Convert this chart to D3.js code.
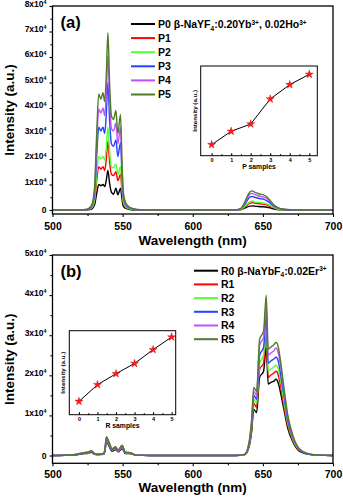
<!DOCTYPE html>
<html lang="en">
<head>
<meta charset="UTF-8">
<title>Upconversion emission spectra</title>
<script src="https://d3js.org/d3.v7.min.js"></script>
<style>
  body { margin: 0; background: #fff; }
  svg { display: block; font-family: "Liberation Sans", Arial, sans-serif; font-weight: bold; }
  .tick line { stroke: #000; stroke-width: 1.1; }
  .domain { display: none; }
</style>
</head>
<body>
<svg id="chart" width="343" height="498"></svg>
<script>
// ---- panel (a): wavelength (nm) and intensity in units of 1e4 ----
const wlA = [500, 520, 525, 528, 530, 531.5, 533, 534.5, 536, 537.2, 538.3, 539.5, 540.7, 542, 543.5,
  545.2, 546.6, 548.5, 549.5, 550.5, 552, 555, 560, 570, 630, 634, 637, 639, 641, 642.5,
  644, 646, 648, 650, 652, 654, 656, 658, 660, 663, 667, 672, 700];
const P0 = [0, 0, 0.01, 0.04, 0.2, 0.65, 1.0, 0.95, 1.0, 0.92, 1.15, 1.55, 1.05, 0.7, 0.62,
  0.85, 0.6, 0.85, 0.45, 0.15, 0.07, 0.02, 0, 0, 0, 0.01, 0.07, 0.12, 0.15, 0.16,
  0.15, 0.14, 0.13, 0.13, 0.12, 0.1, 0.07, 0.04, 0.02, 0.01, 0, 0, 0];
const P1 = [0, 0, 0.01, 0.08, 0.34, 1.15, 1.7, 1.6, 1.7, 1.55, 1.95, 2.7, 1.9, 1.4, 1.35,
  1.5, 1.15, 1.4, 0.75, 0.27, 0.11, 0.04, 0.01, 0, 0, 0.02, 0.11, 0.21, 0.27, 0.29,
  0.27, 0.25, 0.24, 0.23, 0.21, 0.17, 0.12, 0.08, 0.04, 0.02, 0.01, 0, 0];
const P2 = [0, 0, 0.01, 0.09, 0.41, 1.4, 2.1, 2.0, 2.1, 1.95, 2.4, 3.25, 2.3, 1.7, 1.65,
  1.8, 1.4, 1.7, 0.9, 0.32, 0.14, 0.05, 0.01, 0, 0, 0.02, 0.14, 0.25, 0.33, 0.35,
  0.32, 0.3, 0.29, 0.28, 0.25, 0.21, 0.15, 0.09, 0.05, 0.02, 0.01, 0, 0];
const P3 = [0, 0, 0.02, 0.14, 0.64, 2.1, 3.25, 3.1, 3.25, 3.0, 3.7, 5.0, 3.55, 2.6, 2.5,
  2.75, 2.1, 2.65, 1.4, 0.5, 0.21, 0.07, 0.01, 0, 0, 0.04, 0.21, 0.39, 0.51, 0.53,
  0.5, 0.47, 0.44, 0.43, 0.39, 0.32, 0.23, 0.14, 0.08, 0.04, 0.01, 0, 0];
const P4 = [0, 0, 0.03, 0.17, 0.78, 2.6, 3.95, 3.8, 4.0, 3.7, 4.5, 6.05, 4.35, 3.2, 3.1,
  3.4, 2.6, 3.25, 1.75, 0.6, 0.26, 0.09, 0.02, 0, 0, 0.04, 0.26, 0.48, 0.63, 0.65,
  0.61, 0.57, 0.54, 0.52, 0.48, 0.39, 0.28, 0.17, 0.1, 0.04, 0.02, 0, 0];
const P5 = [0, 0, 0.03, 0.2, 0.9, 3.0, 4.55, 4.35, 4.6, 4.25, 5.2, 6.95, 5.0, 3.7, 3.55,
  3.9, 3.0, 3.75, 2.0, 0.7, 0.3, 0.1, 0.02, 0, 0, 0.05, 0.3, 0.55, 0.72, 0.75,
  0.7, 0.66, 0.62, 0.6, 0.55, 0.45, 0.32, 0.2, 0.11, 0.05, 0.02, 0, 0];
const namesA = ["P0", "P1", "P2", "P3", "P4", "P5"];
const insetA = [0.123, 0.272, 0.353, 0.632, 0.792, 0.907];

// ---- panel (b) ----
const wlB = [500, 515, 519.5, 522, 525, 527.7, 530, 532, 536.5, 537.5, 538.4, 540.2, 542.5, 544.9, 546.8,
  549.6, 552, 555.5, 559.5, 570, 630, 637, 640, 642, 643.5, 645.5, 647.7, 650.5, 652.4, 653.8,
  655.5, 657.5, 659.5, 661, 663, 665, 667.8, 671.4, 676, 683, 690, 700];
const R0 = [0, 0.01, 0.03, 0.05, 0.05, 0.08, 0.03, 0.02, 0.03, 0.13, 0.36, 0.24, 0.11, 0.15, 0.09,
  0.17, 0.05, 0.05, 0.01, 0, 0, 0.02, 0.2, 0.6, 1.15, 1.07, 1.95, 2.1, 2.7, 1.78,
  1.82, 1.85, 1.9, 1.8, 1.5, 1.15, 0.67, 0.34, 0.11, 0.03, 0.01, 0];
const R1 = [0, 0.01, 0.04, 0.05, 0.06, 0.09, 0.04, 0.02, 0.04, 0.15, 0.38, 0.26, 0.13, 0.16, 0.1,
  0.19, 0.06, 0.05, 0.01, 0, 0, 0.02, 0.22, 0.67, 1.3, 1.2, 2.15, 2.3, 3.05, 1.95,
  2.0, 2.05, 2.1, 2.0, 1.67, 1.25, 0.74, 0.37, 0.13, 0.03, 0.01, 0];
const R2 = [0, 0.02, 0.04, 0.06, 0.06, 0.1, 0.04, 0.02, 0.04, 0.16, 0.4, 0.28, 0.14, 0.18, 0.11,
  0.21, 0.06, 0.06, 0.01, 0, 0, 0.02, 0.24, 0.72, 1.4, 1.3, 2.3, 2.5, 3.25, 2.1,
  2.15, 2.2, 2.25, 2.15, 1.8, 1.35, 0.8, 0.4, 0.14, 0.03, 0.01, 0];
const R3 = [0, 0.02, 0.04, 0.06, 0.07, 0.1, 0.04, 0.03, 0.04, 0.17, 0.42, 0.3, 0.15, 0.19, 0.12,
  0.23, 0.07, 0.06, 0.01, 0, 0, 0.03, 0.26, 0.78, 1.5, 1.4, 2.5, 2.7, 3.5, 2.3,
  2.35, 2.4, 2.45, 2.35, 1.95, 1.5, 0.87, 0.44, 0.15, 0.03, 0.01, 0];
const R4 = [0, 0.02, 0.05, 0.07, 0.08, 0.11, 0.05, 0.03, 0.05, 0.19, 0.45, 0.33, 0.16, 0.21, 0.13,
  0.25, 0.08, 0.07, 0.01, 0, 0, 0.03, 0.28, 0.85, 1.6, 1.5, 2.75, 2.95, 3.75, 2.5,
  2.55, 2.6, 2.68, 2.55, 2.15, 1.6, 0.95, 0.47, 0.16, 0.04, 0.01, 0];
const R5 = [0, 0.02, 0.05, 0.07, 0.08, 0.12, 0.05, 0.03, 0.05, 0.2, 0.47, 0.35, 0.17, 0.22, 0.14,
  0.26, 0.08, 0.07, 0.01, 0, 0, 0.03, 0.3, 0.9, 1.7, 1.6, 2.9, 3.1, 4.0, 2.65,
  2.7, 2.75, 2.82, 2.7, 2.25, 1.7, 1.0, 0.5, 0.17, 0.04, 0.01, 0];
const namesB = ["R0", "R1", "R2", "R3", "R4", "R5"];
const insetB = [0.158, 0.357, 0.488, 0.61, 0.774, 0.925];

const samples = [0, 1, 2, 3, 4, 5];
const colors = ["#000000", "#ff0000", "#55ff33", "#2244ff", "#c050ff", "#4f7d23"];

const svg = d3.select('#chart');

// text with sub/superscript pieces
function rich(text, parts, size) {
  let shift = 0;
  parts.forEach(p => {
    const [t, kind] = Array.isArray(p) ? p : [p, 'n'];
    const target = kind === 'sup' ? -0.3 * size : kind === 'sub' ? 0.28 * size : 0;
    text.append('tspan')
      .attr('dy', target - shift)
      .attr('font-size', kind === 'n' ? size : size * 0.62)
      .text(t);
    shift = target;
  });
}

function panel(cfg) {
  const g = svg.append('g');
  const x = d3.scaleLinear().domain([500, 700]).range([cfg.left, cfg.right]);
  const y = d3.scaleLinear().domain(cfg.yDomain).range([cfg.bottom, cfg.top]);

  // minor ticks
  g.append('g').attr('transform', `translate(0,${cfg.bottom})`)
    .call(d3.axisBottom(x).tickValues([525, 575, 625, 675]).tickSize(2).tickFormat(''));
  g.append('g').attr('transform', `translate(${cfg.left},0)`)
    .call(d3.axisLeft(y).tickValues(cfg.yMinor).tickSize(2).tickFormat(''));

  // major ticks
  g.append('g').attr('transform', `translate(0,${cfg.bottom})`)
    .call(d3.axisBottom(x).tickValues([500, 550, 600, 650, 700]).tickSize(3).tickPadding(cfg.xPad))
    .selectAll('text').attr('font-size', 10.5).attr('fill', '#000');
  const yAx = g.append('g').attr('transform', `translate(${cfg.left},0)`)
    .call(d3.axisLeft(y).tickValues(cfg.yTicks).tickSize(3).tickPadding(3));
  yAx.selectAll('text').attr('font-size', 8.5).attr('fill', '#000').each(function(d) {
    const t = d3.select(this).text('');
    if (d === 0) t.text('0');
    else rich(t, [d + 'x10', ['4', 'sup']], 8.5);
  });

  // spectra
  const line = d3.line().x((d, i) => x(cfg.wl[i])).y(d => y(d)).curve(d3.curveMonotoneX);
  cfg.series.forEach((s, i) => {
    g.append('path').datum(s).attr('d', line)
      .attr('fill', 'none').attr('stroke', colors[i]).attr('stroke-width', 1.4)
      .attr('stroke-linejoin', 'round');
  });

  // frame
  g.append('rect').attr('x', cfg.left).attr('y', cfg.top)
    .attr('width', cfg.right - cfg.left).attr('height', cfg.bottom - cfg.top)
    .attr('fill', 'none').attr('stroke', '#000').attr('stroke-width', 1.3);

  // titles
  g.append('text').attr('x', (cfg.left + cfg.right) / 2).attr('y', cfg.xTitleY)
    .attr('text-anchor', 'middle').attr('font-size', 13.5).text('Wavelength (nm)');
  g.append('text').attr('transform', `translate(14,${(cfg.top + cfg.bottom) / 2}) rotate(-90)`)
    .attr('text-anchor', 'middle').attr('font-size', 13.5).text('Intensity (a.u.)');
  g.append('text').attr('x', cfg.left + 8).attr('y', cfg.top + 22)
    .attr('font-size', 16.5).text(cfg.tag);

  // legend
  cfg.names.forEach((n, i) => {
    const ly = cfg.legY + i * cfg.legDy;
    g.append('line').attr('x1', cfg.legX).attr('x2', cfg.legX + 24)
      .attr('y1', ly).attr('y2', ly).attr('stroke', colors[i]).attr('stroke-width', 2);
    const t = g.append('text').attr('x', cfg.legX + 27).attr('y', ly + 3.8).attr('font-size', 10.5);
    if (i === 0) rich(t, cfg.firstLabel, 10.5);
    else t.text(n);
  });

  // inset
  const ins = cfg.inset;
  const ix = d3.scaleLinear().domain(ins.xDomain).range([ins.left, ins.right]);
  const iy = d3.scaleLinear().domain([0, 1]).range([ins.bottom, ins.top]);
  const ig = g.append('g');
  ig.append('rect').attr('x', ins.left).attr('y', ins.top)
    .attr('width', ins.right - ins.left).attr('height', ins.bottom - ins.top)
    .attr('fill', '#fff').attr('stroke', '#000').attr('stroke-width', 1);
  ig.append('g').attr('transform', `translate(0,${ins.bottom})`)
    .call(d3.axisBottom(ix).tickValues([0.5, 1.5, 2.5, 3.5, 4.5]).tickSize(-1.5).tickFormat(''))
    .selectAll('line').attr('stroke-width', 0.7);
  ig.append('g').attr('transform', `translate(0,${ins.bottom})`)
    .call(d3.axisBottom(ix).tickValues(samples).tickFormat(d3.format('d')).tickSize(-2.5).tickPadding(2))
    .call(a => a.selectAll('line').attr('stroke-width', 0.7))
    .selectAll('text').attr('font-size', 5.5).attr('fill', '#000');
  ig.append('path').datum(ins.values)
    .attr('d', d3.line().x((d, i) => ix(samples[i])).y(d => iy(d)))
    .attr('fill', 'none').attr('stroke', '#000').attr('stroke-width', 1);
  ig.selectAll('.star').data(ins.values).join('path')
    .attr('transform', (d, i) => `translate(${ix(samples[i])},${iy(d)})`)
    .attr('d', d3.symbol(d3.symbolStar).size(20))
    .attr('fill', '#ff1a1a').attr('stroke', '#cc0000').attr('stroke-width', 0.4);
  ig.append('text').attr('x', (ins.left + ins.right) / 2).attr('y', ins.bottom + 13)
    .attr('text-anchor', 'middle').attr('font-size', 6.8).text(ins.xTitle);
  ig.append('text')
    .attr('transform', `translate(${ins.left - 4},${(ins.top + ins.bottom) / 2}) rotate(-90)`)
    .attr('text-anchor', 'middle').attr('font-size', 6.2).text('Intensity (a.u.)');
}

panel({
  left: 52.5, right: 333, top: 6, bottom: 214,
  yDomain: [-0.157, 8], yTicks: [0, 1, 2, 3, 4, 5, 6, 7, 8],
  yMinor: [0.5, 1.5, 2.5, 3.5, 4.5, 5.5, 6.5, 7.5],
  xPad: 6, xTitleY: 245, tag: '(a)',
  wl: wlA, series: [P0, P1, P2, P3, P4, P5], names: namesA,
  legX: 131, legY: 24, legDy: 14.1,
  firstLabel: ['P0 β-NaYF', ['4', 'sub'], ':0.20Yb', ['3+', 'sup'], ', 0.02Ho', ['3+', 'sup']],
  inset: { left: 200.7, right: 317.3, top: 66, bottom: 155.7, xDomain: [-0.56, 5.41],
           values: insetA, xTitle: 'P samples' }
});

panel({
  left: 52.5, right: 333, top: 255, bottom: 463.3,
  yDomain: [-0.194, 5], yTicks: [0, 1, 2, 3, 4, 5],
  yMinor: [0.5, 1.5, 2.5, 3.5, 4.5],
  xPad: 4.5, xTitleY: 492, tag: '(b)',
  wl: wlB, series: [R0, R1, R2, R3, R4, R5], names: namesB,
  legX: 194, legY: 270.7, legDy: 13.7,
  firstLabel: ['R0 β-NaYbF', ['4', 'sub'], ':0.02Er', ['3+', 'sup']],
  inset: { left: 69.3, right: 175.7, top: 330.7, bottom: 414.7, xDomain: [-0.52, 5.22],
           values: insetB, xTitle: 'R samples' }
});
</script>
</body>
</html>
